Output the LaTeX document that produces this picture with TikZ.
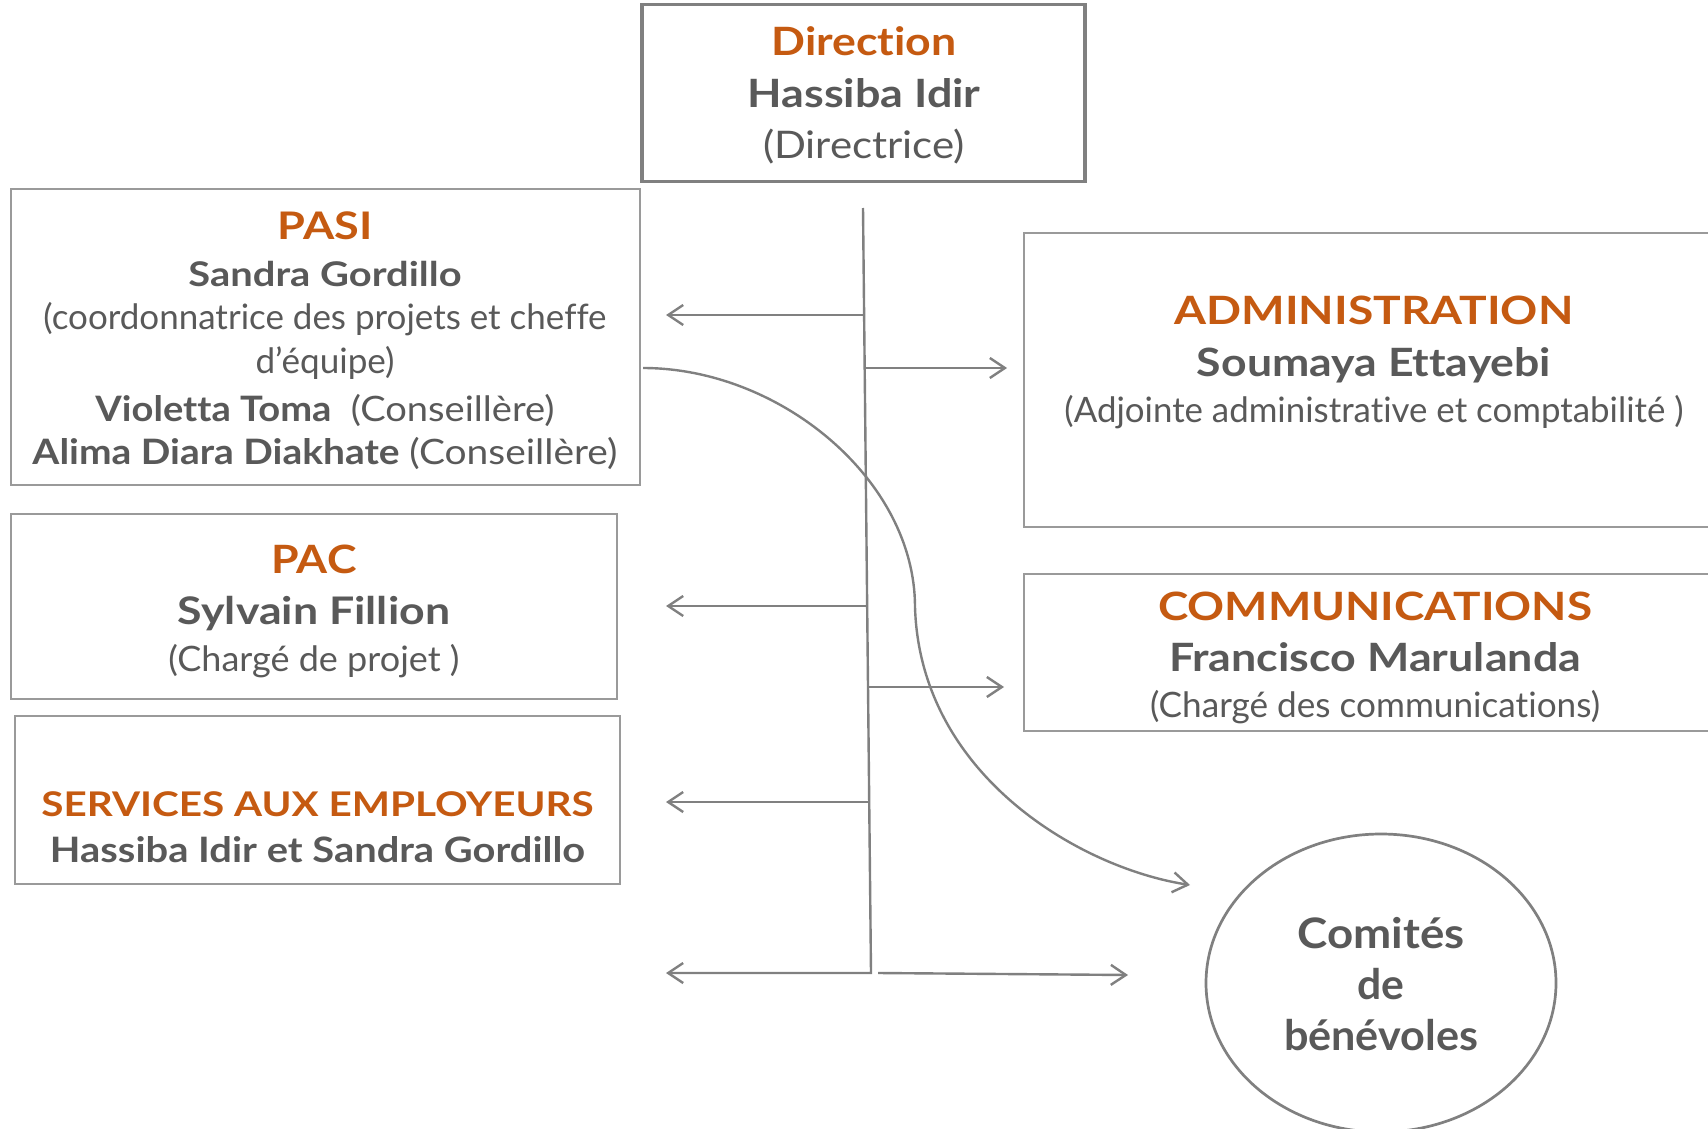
\documentclass[tikz,border=0pt]{standalone}
\usepackage{fontspec}
\setmainfont{Lato}[Ligatures={NoCommon,NoRare,NoDiscretionary}]
\usepackage{graphicx}
\usetikzlibrary{arrows.meta,shapes.geometric}
\definecolor{orgc}{HTML}{C55A11}
\definecolor{txtc}{HTML}{595959}
\definecolor{linec}{HTML}{808080}
\definecolor{boxc}{HTML}{9A9A9A}
\newcommand{\fitline}[3]{\resizebox{#1pt}{\height}{\fontsize{#2pt}{#2pt}\selectfont #3}}
\newcommand{\ttl}[1]{{\bfseries\color{orgc}#1}}
\begin{document}
\begin{tikzpicture}[x=1pt,y=-1pt,
  box/.style={draw=boxc, line width=1.5pt, inner sep=0pt},
  dirbox/.style={draw=linec, line width=3.3pt, inner sep=0pt},
  txt/.style={inner sep=0pt, anchor=base, text=txtc},
  conn/.style={draw=linec, line width=2.4pt},
  arr/.style={conn, -{Straight Barb[length=15pt,width=20pt]}}]
\useasboundingbox (0,0) rectangle (1708,1129);
\clip (0,0) rectangle (1708,1129);
\fill[white] (0,0) rectangle (1708,1129);

% boxes
\node[dirbox, minimum width=443pt, minimum height=177pt] (dir) at (863.5,93) {};
\node[box, minimum width=629pt, minimum height=296pt] (pasi) at (325.5,337) {};
\node[box, minimum width=696pt, minimum height=294pt] (admin) at (1372,380) {};
\node[box, minimum width=606pt, minimum height=185pt] (pac) at (314,606.5) {};
\node[box, minimum width=696pt, minimum height=157pt] (comm) at (1372,652.5) {};
\node[box, minimum width=605pt, minimum height=168pt] (serv) at (317.5,800) {};
\node[ellipse, draw=linec, line width=2.7pt, minimum width=350pt, minimum height=298pt, inner sep=0pt] (comites) at (1381,983) {};

% Direction texts
\node[txt] (dir1) at (864,56) {\fitline{185}{39}{\ttl{Direction}}};
\node[txt] (dir2) at (864,108) {\fitline{233}{39}{\bfseries Hassiba Idir}};
\node[txt] (dir3) at (864,159) {\fitline{202}{38}{(Directrice)}};

% PASI texts
\node[txt] (pasi1) at (325,239) {\fitline{95}{38}{\ttl{PASI}}};
\node[txt] (pasi2) at (325,286) {\fitline{273}{34}{\bfseries Sandra Gordillo}};
\node[txt] (pasi3) at (325,329) {\fitline{563}{35}{(coordonnatrice des projets et cheffe}};
\node[txt] (pasi4) at (325,373) {\fitline{139}{35}{d’équipe)}};
\node[txt] (pasi5) at (325,421) {\fitline{459}{35}{{\bfseries Violetta Toma}\ \ (Conseillère)}};
\node[txt] (pasi6) at (325,464) {\fitline{585}{35}{{\bfseries Alima Diara Diakhate} (Conseillère)}};

% ADMINISTRATION texts
\node[txt] (adm1) at (1374,324) {\fitline{399}{39}{\ttl{ADMINISTRATION}}};
\node[txt] (adm2) at (1374,376) {\fitline{354}{39}{\bfseries Soumaya Ettayebi}};
\node[txt] (adm3) at (1374,422) {\fitline{619}{35}{(Adjointe administrative et comptabilité )}};

% PAC texts
\node[txt] (pac1) at (314,573) {\fitline{85}{39}{\ttl{PAC}}};
\node[txt] (pac2) at (314,624) {\fitline{272}{38}{\bfseries Sylvain Fillion}};
\node[txt] (pac3) at (314,671) {\fitline{291}{35}{(Chargé de projet )}};

% COMMUNICATIONS texts
\node[txt] (com1) at (1375,620) {\fitline{434}{39}{\ttl{COMMUNICATIONS}}};
\node[txt] (com2) at (1375,671) {\fitline{412}{39}{\bfseries Francisco Marulanda}};
\node[txt] (com3) at (1375,717) {\fitline{450}{35}{(Chargé des communications)}};

% SERVICES texts
\node[txt] (srv1) at (317.5,816) {\fitline{552}{34}{\ttl{SERVICES AUX EMPLOYEURS}}};
\node[txt] (srv2) at (317.5,862) {\fitline{535}{35}{\bfseries Hassiba Idir et Sandra Gordillo}};

% Comites texts
\node[txt] (cb1) at (1381,948) {\fitline{167}{42}{\bfseries Comités}};
\node[txt] (cb2) at (1381,999) {\fitline{47}{42}{\bfseries de}};
\node[txt] (cb3) at (1381,1050) {\fitline{194}{42}{\bfseries bénévoles}};

% trunk coordinates
\coordinate (t0) at (863,208);
\coordinate (tEnd) at (871,973);
\coordinate (bL1) at (864.1,315);
\coordinate (bR1) at (864.7,368);
\coordinate (bL2) at (867.2,606);
\coordinate (bR2) at (868,687);
\coordinate (bL3) at (869.2,802);
\coordinate (bR4) at (878,973);
% arrow ends
\coordinate (aL1) at (666,315);
\coordinate (aR1) at (1007,368);
\coordinate (aL2) at (666,606);
\coordinate (aR2) at (1004,687);
\coordinate (aL3) at (666,802);
\coordinate (aL4) at (666,973);
\coordinate (aR4) at (1128,975);
% curve
\coordinate (c0) at (643,368);
\coordinate (c1) at (915,607);
\coordinate (c3) at (1190,885);

\draw[arr, line join=miter] (t0) -- (tEnd) -- (aL4);
\draw[arr] (bL1) -- (aL1);
\draw[arr] (bR1) -- (aR1);
\draw[arr] (bL2) -- (aL2);
\draw[arr] (bR2) -- (aR2);
\draw[arr] (bL3) -- (aL3);
\draw[arr] (bR4) -- (aR4);
\draw[arr] (c0) .. controls (780,368) and (915,480) .. (c1)
  .. controls (920,775) and (1080,868) .. (c3);
\end{tikzpicture}
\end{document}
